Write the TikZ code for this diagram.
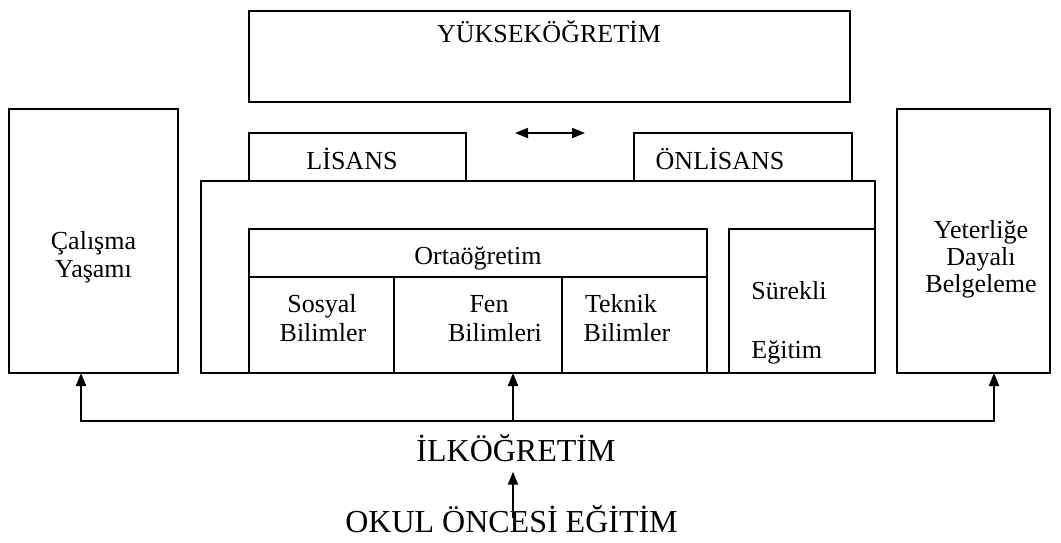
\documentclass[tikz,border=0pt]{standalone}
\usepackage{fontspec}
\setmainfont{Liberation Serif}
\usetikzlibrary{arrows.meta,calc,fit}

\tikzset{
  kutu/.style={draw,line width=1pt,inner sep=0pt,outer sep=0pt},
  yazi/.style={font=\fontsize{13}{15}\selectfont,inner sep=0pt,anchor=base},
  buyuk/.style={font=\fontsize{16}{19}\selectfont,inner sep=0pt,anchor=base},
  ok/.style={-{Triangle[length=6.5pt,width=5pt]},line width=1pt},
  ciftok/.style={{Triangle[length=6.5pt,width=5pt]}-{Triangle[length=6.5pt,width=5pt]},line width=1pt}
}

\begin{document}
\begin{tikzpicture}[x=0.5pt,y=-0.5pt]
  \useasboundingbox (0,0) rectangle (1061,542);
  % Dis kutular
  \node[kutu,fit={(249,11)(850,102)}] (yuksek) {};
  \node[kutu,fit={(9,109)(178,373)}] (calisma) {};
  \node[kutu,fit={(897,109)(1050,373)}] (yeterlik) {};
  \node[kutu,fit={(249,133)(466,181)}] (lisans) {};
  \node[kutu,fit={(634,133)(852,181)}] (onlisans) {};
  \node[kutu,fit={(201,181)(875,373)}] (alan) {};
  % Ortaogretim ve surekli egitim
  \node[kutu,fit={(249,229)(707,277)}] (orta) {};
  \node[kutu,fit={(249,277)(394,373)}] (sosyal) {};
  \node[kutu,fit={(394,277)(562,373)}] (fen) {};
  \node[kutu,fit={(562,277)(707,373)}] (teknik) {};
  \node[kutu,fit={(729,229)(875,373)}] (surekli) {};

  % Yazilar
  \node[yazi] (yuksek-yazi) at (549,42) {YÜKSEKÖĞRETİM};
  \node[yazi] (lisans-yazi) at (352,169) {LİSANS};
  \node[yazi] (onlisans-yazi) at (720,169) {ÖNLİSANS};
  \node[yazi] (calisma-1) at (93.5,249) {Çalışma};
  \node[yazi] (calisma-2) at (93.5,277) {Yaşamı};
  \node[yazi] (yeterlik-1) at (981,238) {Yeterliğe};
  \node[yazi] (yeterlik-2) at (981,265) {Dayalı};
  \node[yazi] (yeterlik-3) at (981,292) {Belgeleme};
  \node[yazi] (orta-yazi) at (478,264) {Ortaöğretim};
  \node[yazi] (sosyal-1) at (322,312) {Sosyal};
  \node[yazi] (sosyal-2) at (323,341) {Bilimler};
  \node[yazi] (fen-1) at (489,312) {Fen};
  \node[yazi] (fen-2) at (495,341) {Bilimleri};
  \node[yazi] (teknik-1) at (621,312) {Teknik};
  \node[yazi] (teknik-2) at (627,341) {Bilimler};
  \node[yazi,anchor=base west] (surekli-1) at (751,299) {Sürekli};
  \node[yazi,anchor=base west] (surekli-2) at (751,358) {Eğitim};
  \node[buyuk] (ilk) at (516,461) {İLKÖĞRETİM};
  \node[buyuk] (okul) at (511.5,532) {OKUL ÖNCESİ EĞİTİM};

  % Oklar
  \coordinate (ok-sol) at (515,133);
  \coordinate (ok-sag) at (585,133);
  \draw[ciftok] (ok-sol) -- (ok-sag);
  \coordinate (sol-dip) at (81,421);
  \coordinate (orta-dip) at (513,421);
  \coordinate (sag-dip) at (994,421);
  \draw[ciftok] (sol-dip |- calisma.south) -- (sol-dip) -- (sag-dip) -- (sag-dip |- yeterlik.south);
  \draw[ok] (orta-dip) -- (orta-dip |- fen.south);
  \coordinate (okul-ok) at (513,518);
  \draw[ok,shorten >=5pt] (okul-ok) -- (okul-ok |- ilk.south);
\end{tikzpicture}
\end{document}
